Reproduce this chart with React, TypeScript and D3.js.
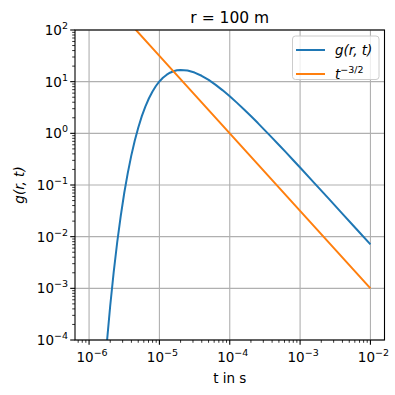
import * as d3 from "d3";

// sample times (s) and g(r,t) values
const times = [
  1.585e-6, 1.778e-6, 1.995e-6, 2.239e-6, 2.512e-6, 2.818e-6, 3.162e-6, 3.548e-6,
  3.981e-6, 4.467e-6, 5.012e-6, 5.623e-6, 6.31e-6, 7.079e-6, 7.943e-6, 8.913e-6,
  1e-5, 1.122e-5, 1.259e-5, 1.413e-5, 1.585e-5, 1.778e-5, 1.995e-5, 2.512e-5,
  3.162e-5, 3.981e-5, 5.012e-5, 6.31e-5, 7.943e-5, 1e-4, 1.259e-4, 1.585e-4,
  1.995e-4, 2.512e-4, 3.162e-4, 3.981e-4, 5.012e-4, 6.31e-4, 7.943e-4, 1e-3,
  1.585e-3, 2.512e-3, 3.981e-3, 6.31e-3, 1e-2,
];
const gValues = [
  1.1e-5, 8.0e-5, 4.5e-4, 2.06e-3, 7.8e-3, 0.025, 0.07, 0.17,
  0.37, 0.728, 1.3, 2.15, 3.3, 4.72, 6.4, 8.24,
  10.1, 11.9, 13.5, 14.9, 15.9, 16.6, 16.8, 16.4,
  15.0, 13.0, 10.8, 8.67, 6.79, 5.21, 3.93, 2.93,
  2.16, 1.58, 1.14, 0.827, 0.595, 0.427, 0.305, 0.218,
  0.11, 0.0557, 0.028, 0.0141, 0.00708,
];
// t^{-3/2} reference line
const powTimes = [1e-6, 1e-5, 1e-4, 1e-3, 1e-2];
const powValues = [1000, 31.62, 1, 0.03162, 0.001];

const xTickExps = [-6, -5, -4, -3, -2];
const yTickExps = [-4, -3, -2, -1, 0, 1, 2];

const W = 395;
const H = 395;
const left = 75;
const right = 384.5;
const top = 30;
const bottom = 340;

const blue = "#1f77b4";
const orange = "#ff7f0e";
const font = "DejaVu Sans, sans-serif";

function Pow10({ x, y, exp, anchor }: { x: number; y: number; exp: number; anchor: string }) {
  const e = exp < 0 ? `\u2212${-exp}` : `${exp}`;
  return (
    <text x={x} y={y} textAnchor={anchor} fontFamily={font} fontSize={13.5} fill="#000">
      <tspan>10</tspan>
      <tspan fontSize={9.5} dy={-6}>{e}</tspan>
    </text>
  );
}

export default function App() {
  const x = d3.scaleLog().domain([Math.pow(10, -6.2), Math.pow(10, -1.8)]).range([left, right]);
  const y = d3.scaleLog().domain([1e-4, 1e2]).range([bottom, top]);

  const line = d3.line<[number, number]>().x(d => x(d[0])).y(d => y(d[1]));
  const gPath = line(times.map((t, i) => [t, gValues[i]] as [number, number])) ?? "";
  const pPath = line(powTimes.map((t, i) => [t, powValues[i]] as [number, number])) ?? "";

  const xMinor: number[] = [];
  for (let e = -7; e <= -2; e++) {
    for (let m = 2; m <= 9; m++) {
      const v = m * Math.pow(10, e);
      if (x(v) >= left && x(v) <= right) xMinor.push(v);
    }
  }
  const yMinor: number[] = [];
  for (let e = -4; e < 2; e++) {
    for (let m = 2; m <= 9; m++) yMinor.push(m * Math.pow(10, e));
  }

  return (
    <svg width={W} height={H} style={{ position: "absolute", left: 0, top: 0 }}>
      <rect width={W} height={H} fill="#fff" />
      <defs>
        <clipPath id="plot">
          <rect x={left} y={top} width={right - left} height={bottom - top} />
        </clipPath>
      </defs>

      {/* grid */}
      {xTickExps.map(e => (
        <line key={"gx" + e} x1={x(Math.pow(10, e))} x2={x(Math.pow(10, e))} y1={top} y2={bottom}
          stroke="#b0b0b0" strokeWidth={1.1} />
      ))}
      {yTickExps.map(e => (
        <line key={"gy" + e} x1={left} x2={right} y1={y(Math.pow(10, e))} y2={y(Math.pow(10, e))}
          stroke="#b0b0b0" strokeWidth={1.1} />
      ))}

      {/* series */}
      <g clipPath="url(#plot)">
        <path d={gPath} fill="none" stroke={blue} strokeWidth={2} strokeLinejoin="round" />
        <path d={pPath} fill="none" stroke={orange} strokeWidth={2} />
      </g>

      {/* frame */}
      <rect x={left} y={top} width={right - left} height={bottom - top} fill="none" stroke="#000" strokeWidth={1.1} />

      {/* x ticks */}
      {xTickExps.map(e => (
        <g key={"xt" + e}>
          <line x1={x(Math.pow(10, e))} x2={x(Math.pow(10, e))} y1={bottom} y2={bottom + 4.8} stroke="#000" strokeWidth={1.1} />
          <Pow10 x={x(Math.pow(10, e)) + 3} y={bottom + 22} exp={e} anchor="middle" />
        </g>
      ))}
      {xMinor.map((v, i) => (
        <line key={"xm" + i} x1={x(v)} x2={x(v)} y1={bottom} y2={bottom + 2.8} stroke="#000" strokeWidth={0.8} />
      ))}

      {/* y ticks */}
      {yTickExps.map(e => (
        <g key={"yt" + e}>
          <line x1={left - 4.8} x2={left} y1={y(Math.pow(10, e))} y2={y(Math.pow(10, e))} stroke="#000" strokeWidth={1.1} />
          <Pow10 x={left - 7} y={y(Math.pow(10, e)) + 5} exp={e} anchor="end" />
        </g>
      ))}
      {yMinor.map((v, i) => (
        <line key={"ym" + i} x1={left - 2.8} x2={left} y1={y(v)} y2={y(v)} stroke="#000" strokeWidth={0.8} />
      ))}

      {/* labels */}
      <text x={(left + right) / 2} y={383} textAnchor="middle" fontFamily={font} fontSize={13.5}>t in s</text>
      <text transform={`translate(24,${(top + bottom) / 2}) rotate(-90)`} textAnchor="middle"
        fontFamily={font} fontSize={13.5} fontStyle="italic">g(r, t)</text>
      <text x={(left + right) / 2} y={22.5} textAnchor="middle" fontFamily={font} fontSize={15.5}>r = 100 m</text>

      {/* legend */}
      <rect x={292.5} y={36} width={86.5} height={43.5} rx={3} fill="#fff" fillOpacity={0.8} stroke="#cccccc" strokeWidth={1} />
      <line x1={296} x2={325} y1={50} y2={50} stroke={blue} strokeWidth={2} />
      <text x={335} y={55} fontFamily={font} fontSize={13.5} fontStyle="italic">g(r, t)</text>
      <line x1={296} x2={325} y1={74} y2={74} stroke={orange} strokeWidth={2} />
      <text x={335} y={78.5} fontFamily={font} fontSize={13.5}>
        <tspan fontStyle="italic">t</tspan>
        <tspan fontSize={9.5} dy={-6}>{"\u22123/2"}</tspan>
      </text>
    </svg>
  );
}
